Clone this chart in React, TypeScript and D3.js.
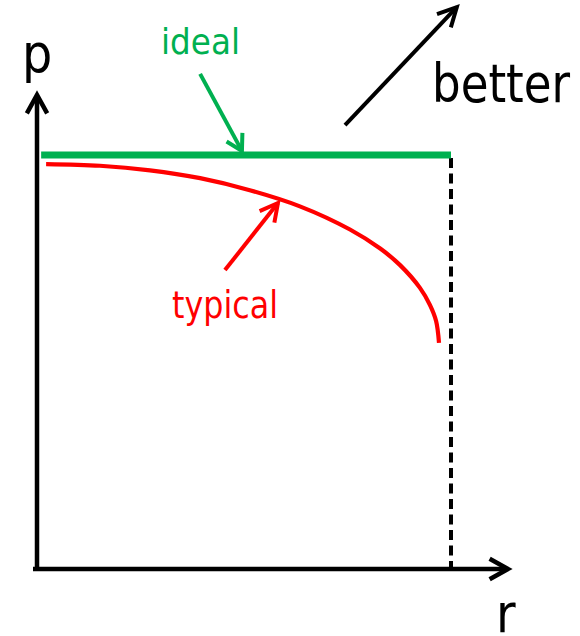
import React from "react";
import * as d3 from "d3";

// Data (r, p in unit coordinates; ideal p = 1 across, r_max = 1)
const typicalR = [0.022, 0.152, 0.273, 0.394, 0.514, 0.635, 0.756, 0.829, 0.877, 0.925, 0.949, 0.964, 0.971];
const typicalP = [0.978, 0.974, 0.963, 0.944, 0.915, 0.876, 0.82, 0.774, 0.734, 0.679, 0.638, 0.599, 0.546];
const idealR = [0.01, 1.0];
const idealP = [1.0, 1.0];
const rMax = 1.0;

// Annotation arrows: [fromR, fromP, toR, toP]
const idealArrow = [0.394, 1.196, 0.495, 1.01];
const typicalArrow = [0.454, 0.722, 0.582, 0.884];
const betterArrow = [0.744, 1.072, 1.014, 1.357];

const W = 580;
const H = 636;

const x = d3.scaleLinear().domain([0, 1]).range([37, 451]);
const y = d3.scaleLinear().domain([0, 1]).range([569, 155]);

const GREEN = "#00b050";
const RED = "#ff0000";
const FONT = "'DejaVu Sans Condensed', 'DejaVu Sans', sans-serif";

function headPath(x1: number, y1: number, x2: number, y2: number, len: number, ang: number) {
  const a = Math.atan2(y1 - y2, x1 - x2);
  const t = (ang * Math.PI) / 180;
  const p1 = [x2 + len * Math.cos(a + t), y2 + len * Math.sin(a + t)];
  const p2 = [x2 + len * Math.cos(a - t), y2 + len * Math.sin(a - t)];
  return `M${p1[0]},${p1[1]}L${x2},${y2}L${p2[0]},${p2[1]}`;
}

function Arrow({ a, color, w, len, ang }: { a: number[]; color: string; w: number; len: number; ang: number }) {
  const x1 = x(a[0]), y1 = y(a[1]), x2 = x(a[2]), y2 = y(a[3]);
  return (
    <g stroke={color} strokeWidth={w} fill="none" strokeLinecap="butt" strokeLinejoin="miter">
      <line x1={x1} y1={y1} x2={x2} y2={y2} />
      <path d={headPath(x1, y1, x2, y2, len, ang)} />
    </g>
  );
}

export default function App() {
  const pts: [number, number][] = typicalR.map((r, i) => [r, typicalP[i]]);
  const line = d3
    .line<[number, number]>()
    .x((d) => x(d[0]))
    .y((d) => y(d[1]))
    .curve(d3.curveCatmullRom.alpha(0.5));

  const yTop = 95;
  const xRight = 508;

  return (
    <svg width={W} height={H} style={{ position: "absolute", left: 0, top: 0, background: "#fff" }}>
      {/* axes */}
      <g stroke="#000" strokeWidth={4.5} fill="none">
        <line x1={x(0)} y1={y(0) + 2} x2={x(0)} y2={yTop + 2} />
        <path d={headPath(x(0), y(0), x(0), yTop, 21, 29)} />
        <line x1={x(0) - 4} y1={y(0)} x2={xRight - 2} y2={y(0)} />
        <path d={headPath(x(0), y(0), xRight, y(0), 21, 29)} />
      </g>
      {/* dashed r max line */}
      <line
        x1={x(rMax)}
        y1={y(1) + 3}
        x2={x(rMax)}
        y2={y(0)}
        stroke="#000"
        strokeWidth={4}
        strokeDasharray="10 5.5"
      />
      {/* ideal */}
      <line
        x1={x(idealR[0])}
        y1={y(idealP[0])}
        x2={x(idealR[1])}
        y2={y(idealP[1])}
        stroke={GREEN}
        strokeWidth={7}
      />
      {/* typical */}
      <path d={line(pts) || ""} stroke={RED} strokeWidth={4.2} fill="none" />

      {/* annotations */}
      <Arrow a={idealArrow} color={GREEN} w={4} len={18} ang={30} />
      <Arrow a={typicalArrow} color={RED} w={4} len={20} ang={28} />
      <Arrow a={betterArrow} color="#000" w={4} len={21} ang={27} />

      <text x={161} y={54} fontFamily={FONT} fontSize={35.5} fill={GREEN} textLength={79} lengthAdjust="spacingAndGlyphs">
        ideal
      </text>
      <text x={172} y={318} fontFamily={FONT} fontSize={37} fill={RED} textLength={106} lengthAdjust="spacingAndGlyphs">
        typical
      </text>
      <text x={432} y={102} fontFamily={FONT} fontSize={52.5} fill="#000" textLength={138} lengthAdjust="spacingAndGlyphs">
        better
      </text>
      <text x={22} y={72} fontFamily={FONT} fontSize={53} fill="#000">
        p
      </text>
      <text x={496} y={632} fontFamily={FONT} fontSize={53} fill="#000">
        r
      </text>
    </svg>
  );
}
